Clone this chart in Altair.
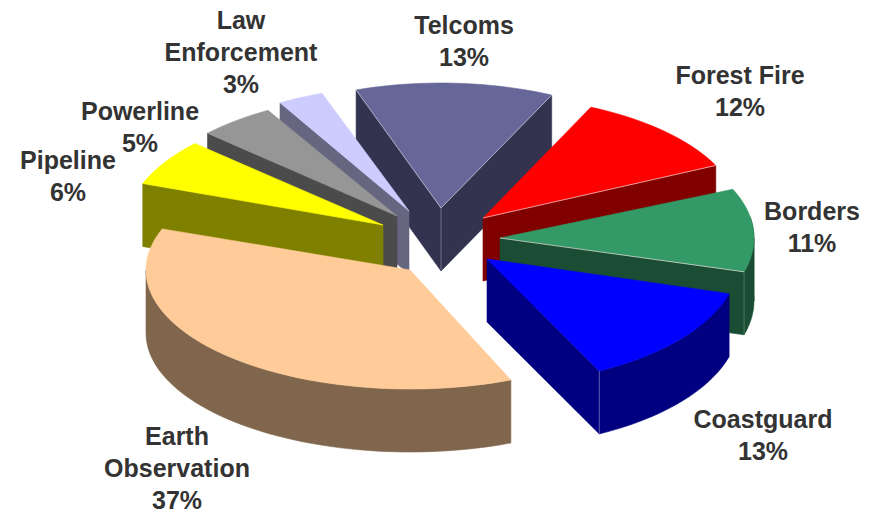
import math
import altair as alt

# --- data ---
names = ["Telcoms", "Forest Fire", "Borders", "Coastguard", "Earth\nObservation", "Pipeline", "Powerline", "Law\nEnforcement"]
shares = [13, 12, 11, 13, 37, 6, 5, 3]

# --- styling / layout ---
top_colors = ["#666699", "#FF0000", "#339966", "#0000FF", "#FFCC99", "#FFFF00", "#969696", "#CCCCFF"]
side_colors = ["#333350", "#800000", "#1A4D33", "#000080", "#80664D", "#808000", "#4B4B4B", "#666680"]
apex = [(441, 208), (483, 218), (500, 238), (487, 259), (410, 270), (383, 225), (397, 216), (409, 211)]
radii = [(258, 125), (258, 122), (254, 122), (252, 125), (264, 119), (256, 120), (258, 122), (258, 125)]
nudges = [(0.5, 0.7), (0, -2), (0, 0), (0, -1), (3, -1.5), (-1.5, 0), (0, 0), (0, 0)]
label_pos = [(464, 14), (740, 64), (812, 200), (763, 408), (177, 425), (68, 149), (140, 100), (241, 9)]
paint_order = [0, 7, 6, 5, 1, 2, 3, 4]
DEPTH = 63
START = -19.2
W, H = 860, 502
M = 8


def warp(t):
    return t + 1.5 - 3 * (1 + math.sin(math.radians(t)))


def pt(i, t):
    ax, ay = apex[i]
    a, b = radii[i]
    r = math.radians(t)
    return (ax - M + a * math.sin(r), ay - M - b * math.cos(r))


def down(p):
    return (p[0], p[1] + DEPTH)


def poly(points, fill):
    ring = [list(p) for p in points] + [list(points[0])]
    return {"type": "Feature", "geometry": {"type": "Polygon", "coordinates": [ring]},
            "properties": {"fill": fill, "stroke": fill, "sw": 0.6}}


def edge(points, col="#C8C8D8", sw=0.7):
    return {"type": "Feature", "geometry": {"type": "LineString", "coordinates": [list(p) for p in points]},
            "properties": {"fill": "none", "stroke": col, "sw": sw}}


def sample(i, t0, t1):
    n = max(4, int((t1 - t0) / 2))
    return [pt(i, t0 + (t1 - t0) * k / n) for k in range(n + 1)]


bounds = []
acc = START
for i, s in enumerate(shares):
    bounds.append((warp(acc) + nudges[i][0], warp(acc + s * 3.6) + nudges[i][1]))
    acc += s * 3.6

features = []
for i in paint_order:
    t0, t1 = bounds[i]
    A = (apex[i][0] - M, apex[i][1] - M)
    arc = sample(i, t0, t1)
    side, top = side_colors[i], top_colors[i]
    # radial cut faces that look towards the viewer
    if math.sin(math.radians(t0)) < 0:
        features.append(poly([A, arc[0], down(arc[0]), down(A)], side))
    if math.sin(math.radians(t1)) > 0:
        features.append(poly([A, arc[-1], down(arc[-1]), down(A)], side))
    # outer rim: front part only, split where the arc turns back in x
    lo, hi = max(t0, 80), min(t1, 270)
    if lo < hi:
        spans = [(lo, 90), (90, hi)] if lo < 90 < hi else [(lo, hi)]
        for u, v in spans:
            part = sample(i, u, v)
            features.append(poly(part + [down(p) for p in reversed(part)], side))
    features.append(poly([A] + arc, top))
    if i == 0:
        features.append(edge([arc[0], A, arc[-1]]))
        features.append(edge([A, down(A)], "#8888A8"))
    if i in (1, 2):
        features.append(edge([A, arc[-1]], "#E8D8D8"))
    if i == 2:
        features.append(edge([arc[-1], down(arc[-1])], "#5A8A70"))
    if i == 3:
        features.append(edge([arc[-1], down(arc[-1])], "#8080C0"))

shapes = alt.Chart(alt.Data(values=features)).mark_geoshape(strokeJoin="round").encode(
    fill=alt.Fill("properties.fill:N", scale=None),
    stroke=alt.Stroke("properties.stroke:N", scale=None),
    strokeWidth=alt.StrokeWidth("properties.sw:Q", scale=None),
).project(type="identity", scale=1, translate=[0, 0])

label_rows = [
    {"label": f"{n}\n{s}%", "x": p[0] - M, "y": p[1] - M}
    for n, s, p in zip(names, shares, label_pos)
]
labels = alt.Chart(alt.Data(values=label_rows)).mark_text(
    font="Liberation Sans", fontSize=25, fontWeight="bold", color="#333333",
    align="center", baseline="top", lineBreak="\n", lineHeight=32,
).encode(
    x=alt.X("x:Q", scale=alt.Scale(domain=[0, W], range=[0, W]), axis=None),
    y=alt.Y("y:Q", scale=alt.Scale(domain=[0, H], range=[0, H]), axis=None),
    text="label:N",
)

chart = alt.layer(shapes, labels).properties(
    width=W, height=H, padding=0, autosize=alt.AutoSizeParams(type="none"), background="white"
).configure_view(stroke=None)

chart.save("out.html", embed_options={"renderer": "svg", "actions": False})
